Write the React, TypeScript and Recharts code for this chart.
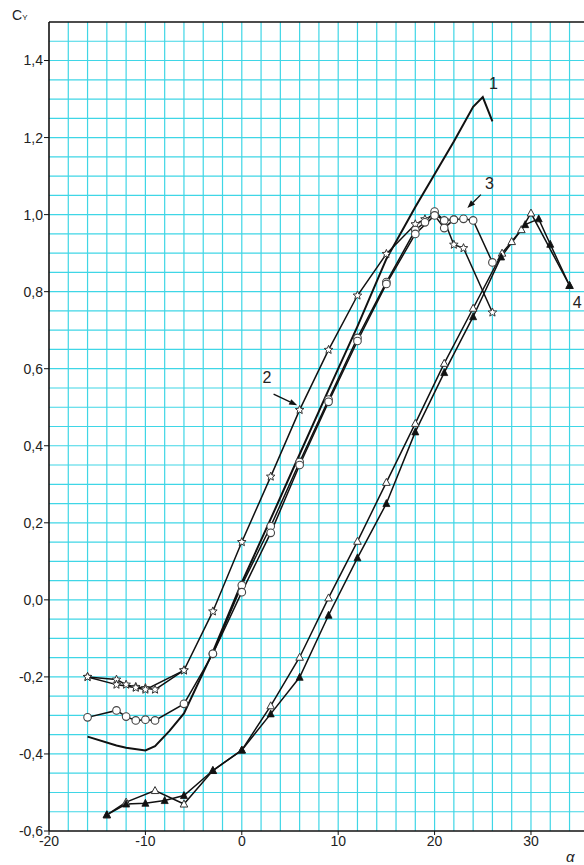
import React from 'react';
import {
  LineChart,
  Line,
  XAxis,
  YAxis,
  CartesianGrid,
  ReferenceLine,
  ReferenceDot,
} from 'recharts';

// curve 1 (plain line)
const c1Alpha = [-16, -13, -12, -10, -9, -7.5, -6, -3, 0, 3, 6, 9, 12, 15, 18, 20, 22, 24, 25, 26];
const c1Cy = [-0.355, -0.378, -0.384, -0.391, -0.38, -0.34, -0.295, -0.135, 0.045, 0.21, 0.378, 0.545, 0.71, 0.885, 1.02, 1.105, 1.19, 1.28, 1.305, 1.242];

// curve 2 (stars)
const c2aAlpha = [-16, -13, -12, -11, -10, -9, -6, -3, 0, 3, 6, 9, 12, 15, 18, 19, 20, 21, 22, 23, 26];
const c2aCy = [-0.2, -0.207, -0.22, -0.226, -0.229, -0.233, -0.183, -0.03, 0.15, 0.32, 0.493, 0.649, 0.79, 0.898, 0.975, 0.988, 1.0, 0.985, 0.922, 0.913, 0.746];
const c2bAlpha = [-16, -13, -11, -10, -6];
const c2bCy = [-0.2, -0.22, -0.228, -0.233, -0.183];

// curve 3 (circles)
const c3aAlpha = [-16, -13, -12, -11, -10, -9, -6, -3, 0, 3, 6, 9, 12, 15, 18, 19, 20, 21, 22, 23, 24, 26];
const c3aCy = [-0.305, -0.287, -0.303, -0.313, -0.311, -0.313, -0.27, -0.14, 0.038, 0.191, 0.358, 0.52, 0.68, 0.825, 0.96, 0.98, 1.008, 0.985, 0.987, 0.989, 0.985, 0.876];
const c3bAlpha = [-3, 0, 3, 6, 9, 12, 15, 18, 20, 21, 22];
const c3bCy = [-0.14, 0.02, 0.174, 0.35, 0.514, 0.672, 0.82, 0.95, 0.998, 0.965, 0.987];

// curve 4 (triangles)
const c4aAlpha = [-14, -12, -9, -6, -3, 0, 3, 6, 9, 12, 15, 18, 21, 24, 27, 28, 29, 30, 34];
const c4aCy = [-0.558, -0.525, -0.495, -0.53, -0.443, -0.39, -0.275, -0.149, 0.005, 0.152, 0.305, 0.458, 0.614, 0.757, 0.9, 0.93, 0.961, 1.004, 0.816];
const c4bAlpha = [-14, -12, -10, -8, -6, -3, 0, 3, 6, 9, 12, 15, 18, 21, 24, 26.9, 29.4, 30.8, 32, 34];
const c4bCy = [-0.558, -0.53, -0.528, -0.521, -0.508, -0.443, -0.39, -0.296, -0.201, -0.04, 0.109, 0.25, 0.436, 0.59, 0.735, 0.89, 0.974, 0.989, 0.923, 0.816];

const xTicks = [-20, -10, 0, 10, 20, 30];
const yTicks = [-0.6, -0.4, -0.2, 0, 0.2, 0.4, 0.6, 0.8, 1.0, 1.2, 1.4];
const xGrid = [-18, -16, -14, -12, -10, -8, -6, -4, -2, 0, 2, 4, 6, 8, 10, 12, 14, 16, 18, 20, 22, 24, 26, 28, 30, 32, 34];
const yGrid = [
  -0.55, -0.5, -0.45, -0.4, -0.35, -0.3, -0.25, -0.2, -0.15, -0.1, -0.05, 0, 0.05, 0.1, 0.15, 0.2, 0.25, 0.3,
  0.35, 0.4, 0.45, 0.5, 0.55, 0.6, 0.65, 0.7, 0.75, 0.8, 0.85, 0.9, 0.95, 1.0, 1.05, 1.1, 1.15, 1.2, 1.25,
  1.3, 1.35, 1.4, 1.45,
];

const zip = (a: number[], c: number[]) => a.map((v, i) => ({ a: v, cy: c[i] }));

const FONT = '"Liberation Sans", Arial, sans-serif';
const INK = '#111';

const starPath = (cx: number, cy: number, r: number) => {
  let d = '';
  for (let i = 0; i < 10; i++) {
    const rr = i % 2 === 0 ? r : r * 0.45;
    const ang = -Math.PI / 2 + (i * Math.PI) / 5;
    d += (i === 0 ? 'M' : 'L') + (cx + rr * Math.cos(ang)).toFixed(2) + ',' + (cy + rr * Math.sin(ang)).toFixed(2);
  }
  return d + 'Z';
};

const StarDot = (p: any) => (
  <path key={p.key ?? p.index} d={starPath(p.cx, p.cy, 4.5)} fill="#fff" stroke="#333" strokeWidth={1} />
);
const CircleDot = (p: any) => (
  <circle key={p.key ?? p.index} cx={p.cx} cy={p.cy} r={3.8} fill="#fff" stroke="#444" strokeWidth={1.1} />
);
const TriOpen = (p: any) => (
  <path
    key={p.key ?? p.index}
    d={`M${p.cx},${p.cy - 4}L${p.cx + 3.8},${p.cy + 3}L${p.cx - 3.8},${p.cy + 3}Z`}
    fill="#fff"
    stroke="#333"
    strokeWidth={1}
  />
);
const TriFilled = (p: any) => (
  <path
    key={p.key ?? p.index}
    d={`M${p.cx},${p.cy - 4}L${p.cx + 3.5},${p.cy + 3}L${p.cx - 3.5},${p.cy + 3}Z`}
    fill="#111"
    stroke="#111"
    strokeWidth={0.8}
  />
);

// curve labels and arrows (alpha, cy)
const labels = [
  { text: '1', a: 26.1, cy: 1.341 },
  { text: '2', a: 2.6, cy: 0.576 },
  { text: '3', a: 25.7, cy: 1.082 },
  { text: '4', a: 34.8, cy: 0.773 },
];
const arrows = [
  { from: { x: 3.3, y: 0.534 }, to: { x: 5.75, y: 0.505 } },
  { from: { x: 24.8, y: 1.052 }, to: { x: 23.4, y: 1.017 } },
];

const Arrow = (p: any) => {
  const { x1, y1, x2, y2 } = p;
  const ang = Math.atan2(y2 - y1, x2 - x1);
  const len = 8;
  const w = 3;
  const bx = x2 - len * Math.cos(ang);
  const by = y2 - len * Math.sin(ang);
  const px = -Math.sin(ang) * w;
  const py = Math.cos(ang) * w;
  return (
    <g>
      <line x1={x1} y1={y1} x2={bx} y2={by} stroke={INK} strokeWidth={1.3} />
      <path d={`M${x2},${y2}L${bx + px},${by + py}L${bx - px},${by - py}Z`} fill={INK} />
    </g>
  );
};

export default function App() {
  const tick = { fontFamily: FONT, fontSize: 14, fill: '#222' };
  return (
    <div style={{ position: 'absolute', left: 0, top: 0, width: 584, height: 865, background: '#fff' }}>
      <LineChart width={584} height={865} margin={{ top: 22, right: 0, bottom: 0, left: 0 }}>
        <CartesianGrid
          stroke="#3fd6e6"
          strokeWidth={1.2}
          horizontalValues={yGrid}
          verticalValues={xGrid}
        />
        <XAxis
          type="number"
          dataKey="a"
          domain={[-20, 35.5]}
          ticks={xTicks}
          allowDataOverflow
          height={34}
          tick={tick}
          tickSize={4}
          tickMargin={1}
          tickLine={{ stroke: INK }}
          axisLine={{ stroke: INK, strokeWidth: 1.6 }}
          interval={0}
        />
        <YAxis
          type="number"
          domain={[-0.6, 1.5]}
          ticks={yTicks}
          allowDataOverflow
          width={49}
          tick={tick}
          tickSize={5}
          tickMargin={1}
          tickLine={{ stroke: INK }}
          axisLine={{ stroke: INK, strokeWidth: 1.6 }}
          tickFormatter={(v: number) => v.toFixed(1).replace('.', ',')}
          interval={0}
        />
        <ReferenceLine y={1.5} stroke={INK} strokeWidth={1.6} />
        <Line data={zip(c1Alpha, c1Cy)} dataKey="cy" stroke={INK} strokeWidth={2} dot={false} isAnimationActive={false} />
        <Line data={zip(c2aAlpha, c2aCy)} dataKey="cy" stroke={INK} strokeWidth={1.5} dot={StarDot} isAnimationActive={false} />
        <Line data={zip(c2bAlpha, c2bCy)} dataKey="cy" stroke={INK} strokeWidth={1.5} dot={StarDot} isAnimationActive={false} />
        <Line data={zip(c3aAlpha, c3aCy)} dataKey="cy" stroke={INK} strokeWidth={1.5} dot={CircleDot} isAnimationActive={false} />
        <Line data={zip(c3bAlpha, c3bCy)} dataKey="cy" stroke={INK} strokeWidth={1.5} dot={CircleDot} isAnimationActive={false} />
        <Line data={zip(c4aAlpha, c4aCy)} dataKey="cy" stroke={INK} strokeWidth={1.5} dot={TriOpen} isAnimationActive={false} />
        <Line data={zip(c4bAlpha, c4bCy)} dataKey="cy" stroke={INK} strokeWidth={1.5} dot={TriFilled} isAnimationActive={false} />
        {arrows.map((ar, i) => (
          <ReferenceLine key={'ar' + i} segment={[ar.from, ar.to]} shape={Arrow} ifOverflow="visible" />
        ))}
        {labels.map((l) => (
          <ReferenceDot
            key={'lb' + l.text}
            x={l.a}
            y={l.cy}
            r={0}
            ifOverflow="visible"
            shape={(p: any) => (
              <text
                x={p.cx}
                y={p.cy}
                textAnchor="middle"
                dominantBaseline="central"
                fontFamily={FONT}
                fontSize={16}
                fill="#222"
              >
                {l.text}
              </text>
            )}
          />
        ))}
      </LineChart>
      <div style={{ position: 'absolute', left: 12, top: 7, fontFamily: FONT, fontSize: 14, color: '#222' }}>
        C<span style={{ fontSize: 8 }}>Y</span>
      </div>
      <div
        style={{
          position: 'absolute',
          left: 566,
          top: 848,
          fontFamily: FONT,
          fontSize: 15,
          fontStyle: 'italic',
          color: '#222',
        }}
      >
        α
      </div>
    </div>
  );
}
